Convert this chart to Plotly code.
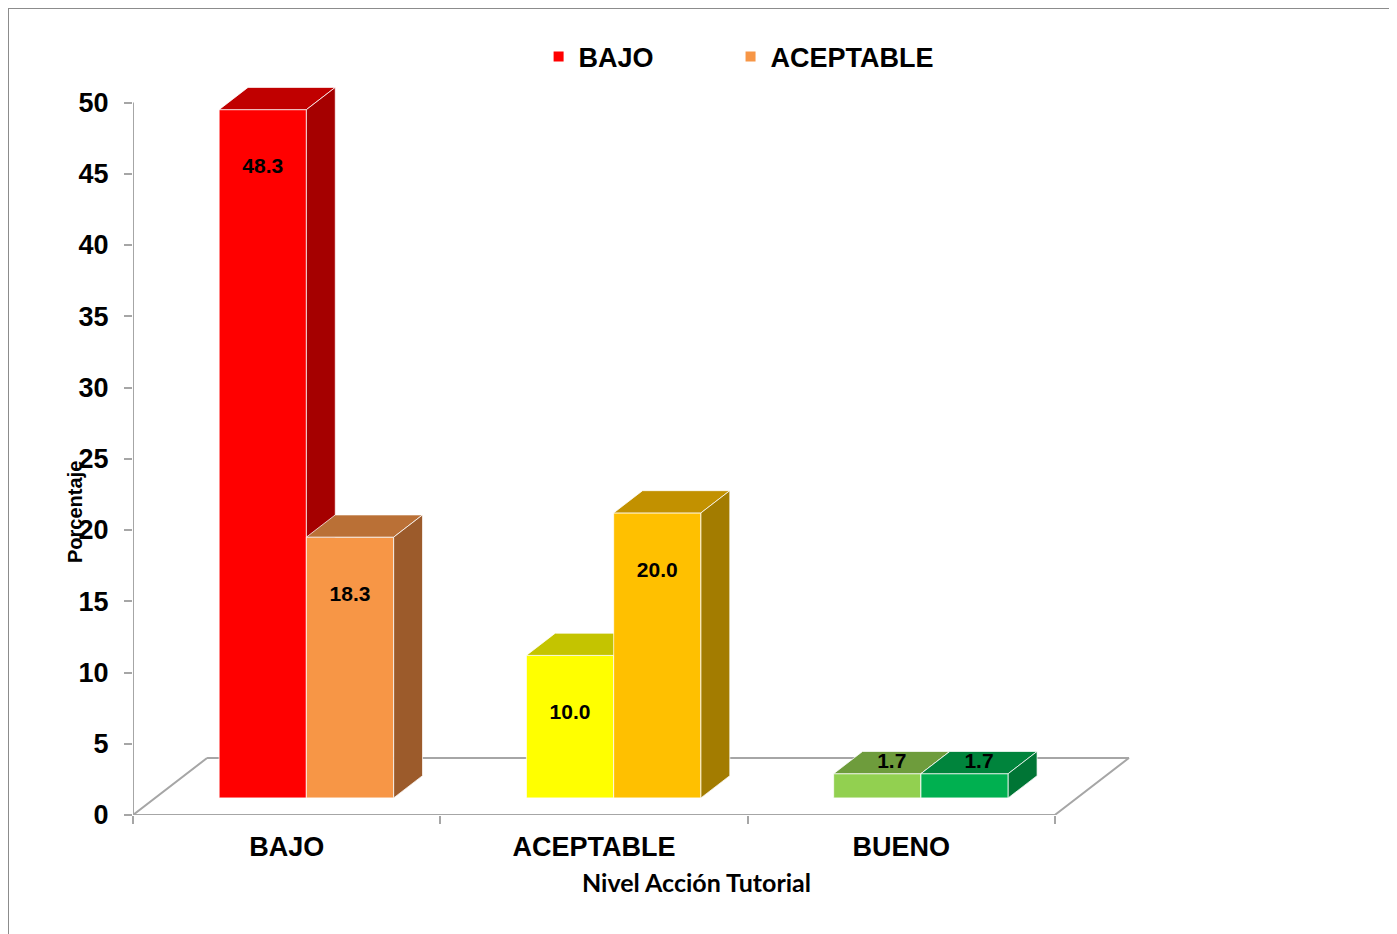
import plotly.graph_objects as go

# ---------------- data ----------------
categories = ["BAJO", "ACEPTABLE", "BUENO"]
series_names = ["BAJO", "ACEPTABLE"]
serie_bajo = [48.3, 10.0, 1.7]
serie_aceptable = [18.3, 20.0, 1.7]
y_ticks = [0, 5, 10, 15, 20, 25, 30, 35, 40, 45, 50]

# ---------------- styles ----------------
front_colors = [["#FF0000", "#FFFF00", "#92D050"], ["#F79646", "#FFC000", "#00B050"]]
top_colors = [["#C00000", "#C4C400", "#6E9C3C"], ["#BA7036", "#C29100", "#00843C"]]
side_colors = [["#A50000", "#A8A800", "#5E8A32"], ["#9C5B2B", "#A37C00", "#007535"]]
legend_colors = ["#FF0000", "#F79646"]

FONT = "Liberation Sans, Arial, sans-serif"
GRAY = "#A6A6A6"

# pseudo-3D projection (category units / value units)
DX, DY = 0.241, 4.0       # full floor depth offset
F0, F1 = 0.30, 0.69       # bar depth position (front/back fraction)
W = 0.284                 # bar width (category units)
SHIFT = -0.008            # small cluster shift
ddx, ddy = (F1 - F0) * DX, (F1 - F0) * DY
base = F0 * DY

fig = go.Figure()

n_cat = len(categories)
# floor outline (x-axis plane)
fig.add_trace(go.Scatter(
    x=[DX, 0, n_cat, n_cat + DX, DX], y=[DY, 0, 0, DY, DY],
    mode="lines", line=dict(color=GRAY, width=2), hoverinfo="skip", showlegend=False))
# y-axis line
fig.add_trace(go.Scatter(
    x=[0, 0], y=[0, y_ticks[-1]], xaxis="x2",
    mode="lines", line=dict(color=GRAY, width=2), hoverinfo="skip", showlegend=False))

values = [serie_bajo, serie_aceptable]
lab_x, lab_y, lab_t = [], [], []
for c in range(n_cat):
    for s in range(2):
        v = values[s][c]
        xl = c + 0.5 - W + s * W + F0 * DX + SHIFT
        xr = xl + W
        t = base + v
        edge = dict(color="rgba(255,255,255,0.75)", width=1)
        # front face
        fig.add_trace(go.Scatter(
            x=[xl, xr, xr, xl, xl], y=[base, base, t, t, base],
            fill="toself", fillcolor=front_colors[s][c], mode="lines", line=edge,
            hoverinfo="text", text=f"{categories[c]} – {series_names[s]}: {v:.1f}",
            showlegend=False))
        # top face
        fig.add_trace(go.Scatter(
            x=[xl, xr, xr + ddx, xl + ddx, xl], y=[t, t, t + ddy, t + ddy, t],
            fill="toself", fillcolor=top_colors[s][c], mode="lines", line=edge,
            hoverinfo="skip", showlegend=False))
        # side face
        fig.add_trace(go.Scatter(
            x=[xr, xr + ddx, xr + ddx, xr, xr], y=[base, base + ddy, t + ddy, t, base],
            fill="toself", fillcolor=side_colors[s][c], mode="lines", line=edge,
            hoverinfo="skip", showlegend=False))
        # label position
        if v >= 5:
            lab_x.append((xl + xr) / 2)
            lab_y.append(t - 4.1)
        else:
            lab_x.append((xl + xr) / 2 + ddx / 2)
            lab_y.append(t + ddy / 2)
        lab_t.append(f"{v:.1f}")

fig.add_trace(go.Scatter(
    x=lab_x, y=lab_y, text=lab_t, mode="text",
    textfont=dict(family=FONT, size=21, color="black", weight="bold"),
    hoverinfo="skip", showlegend=False, cliponaxis=False))

# legend entries (one legend box per series for exact placement)
for i, (name, col) in enumerate(zip(series_names, legend_colors)):
    fig.add_trace(go.Scatter(
        x=[None], y=[None], mode="markers", name=name,
        legend="legend" if i == 0 else "legend2",
        marker=dict(symbol="square", size=10, color=col)))

legend_font = dict(family=FONT, size=27, color="black", weight="bold")
x_range = [0, 3.3]
fig.update_layout(
    width=1397, height=934,
    margin=dict(l=125, r=258, t=66, b=127),
    paper_bgcolor="white", plot_bgcolor="white",
    font=dict(family=FONT, color="black"),
    xaxis=dict(range=x_range, tickvals=[i + 0.5 for i in range(n_cat)], ticktext=categories,
               ticks="", showgrid=False, zeroline=False, showline=False,
               tickfont=dict(family=FONT, size=27, color="black", weight="bold"),
               ticklabelstandoff=13),
    xaxis2=dict(range=x_range, overlaying="x", anchor="y", side="bottom",
                tickvals=list(range(n_cat + 1)), ticks="outside", ticklen=8, tickwidth=2,
                tickcolor=GRAY, showticklabels=False, showgrid=False, zeroline=False,
                showline=False),
    yaxis=dict(range=[0, 52], tickvals=y_ticks, ticks="outside", ticklen=8, tickwidth=2,
               tickcolor=GRAY, showgrid=False, zeroline=False, showline=False,
               tickfont=dict(family=FONT, size=27, color="black", weight="bold"),
               ticklabelstandoff=10),
    legend=dict(orientation="h", x=0.400, xanchor="left", y=1.023, yanchor="middle",
                font=legend_font, bgcolor="rgba(0,0,0,0)"),
    legend2=dict(orientation="h", x=0.5893, xanchor="left", y=1.023, yanchor="middle",
                 font=legend_font, bgcolor="rgba(0,0,0,0)"),
    annotations=[
        dict(text="Nivel Acción Tutorial", xref="paper", yref="paper",
             x=(696 - 133) / 1014, y=-(882 - 815) / 741, xanchor="center", yanchor="middle",
             showarrow=False, font=dict(family="Lato, Open Sans, sans-serif", size=25,
                                        color="black", weight="bold")),
        dict(text="Porcentaje", xref="paper", yref="paper", textangle=-90,
             x=(75 - 133) / 1014, y=(815 - 512) / 741, xanchor="center", yanchor="middle",
             showarrow=False, font=dict(family=FONT, size=20, color="black", weight="bold")),
    ],
    shapes=[dict(type="rect", xref="paper", yref="paper",
                 x0=(8 - 133) / 1014, x1=(1391 - 133) / 1014,
                 y0=-(945 - 815) / 741, y1=(815 - 8) / 741,
                 line=dict(color="#8C8C8C", width=2), fillcolor="rgba(0,0,0,0)", layer="below")],
)

fig.write_html("out.html")
